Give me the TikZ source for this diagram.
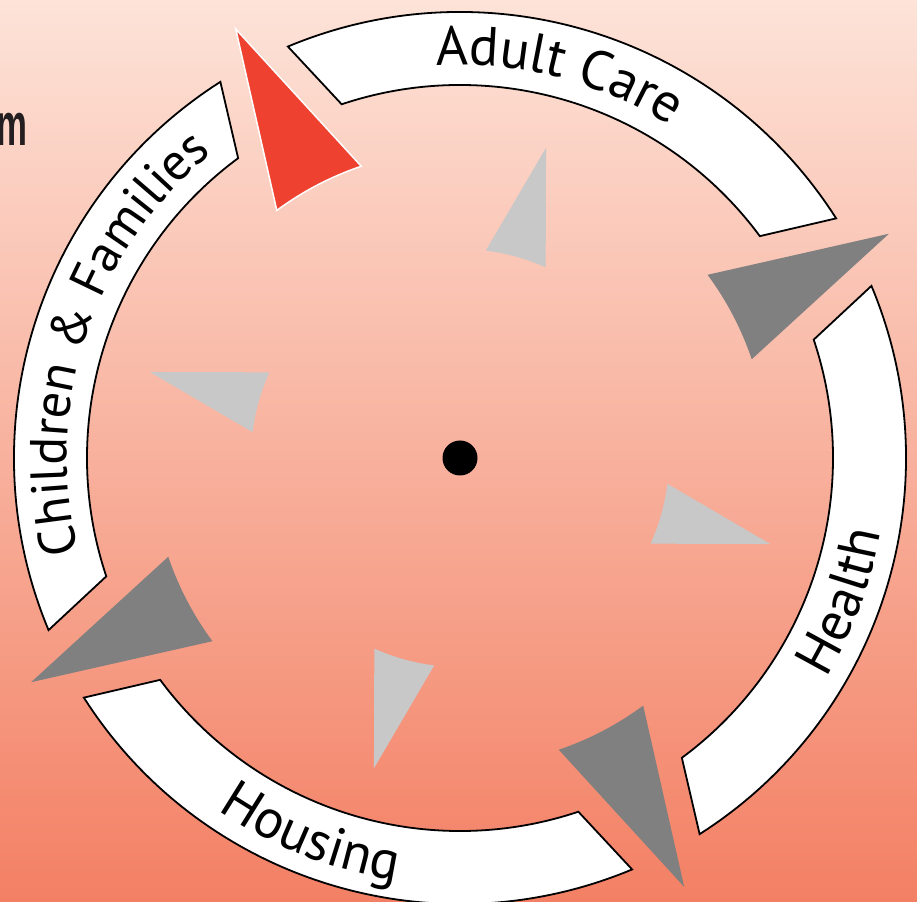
\documentclass[tikz,border=0pt]{standalone}
\usepackage{fontspec}
\setmainfont{PT Sans}
\newfontfamily\mfont{Liberation Sans}
\usetikzlibrary{decorations.text}
\definecolor{bgtop}{RGB}{253,227,216}
\definecolor{bgmid}{RGB}{248,180,157}
\definecolor{bgbot}{RGB}{243,128,100}
\definecolor{darkarrow}{RGB}{128,128,128}
\definecolor{lightarrow}{RGB}{200,200,200}
\definecolor{redarrow}{RGB}{239,65,48}
\definecolor{mtext}{RGB}{35,31,32}
\tikzset{
  segment/.style={fill=white, draw=black, line width=1.8pt, line join=miter},
  bigarrow/.style={fill=darkarrow},
  redhead/.style={fill=redarrow, draw=white, line width=1.5pt, line join=miter},
  smallarrow/.style={fill=lightarrow},
  ringlabel/.style 2 args={decorate, decoration={text along path, text align=center,
      text={|\fontsize{#1}{60}\selectfont|#2}}},
}
\begin{document}
\begin{tikzpicture}[x=1pt,y=1pt]
\useasboundingbox (-460,-443) rectangle (457,458);
\shade[top color=bgtop, middle color=bgmid, bottom color=bgbot] (-460,-443) rectangle (457,458);

% ring segments
\foreach \r in {0,-90,-180,90}{
  \draw[segment, rotate=\r] (112.7:446pt) arc[start angle=112.7, end angle=32.5, radius=446pt]
     -- (36.5:373pt) arc[start angle=36.5, end angle=108.5, radius=373pt] -- cycle;
}

% outer arrowheads
\foreach \r in {0,-90,-180}{
  \fill[bigarrow, rotate=\r] (36.5:308pt) arc[start angle=36.5, end angle=18.7, radius=308pt]
     -- (27.6:484pt) -- cycle;
}
\filldraw[redhead, rotate=90] (36.5:308pt) arc[start angle=36.5, end angle=18.7, radius=308pt]
     -- (27.6:484pt) -- cycle;

% inner arrowheads
\foreach \r in {0,-90,-180,90}{
  \fill[smallarrow, rotate=\r] (82.9:209pt) arc[start angle=82.9, end angle=65.8, radius=209pt]
     -- (74.5:322pt) -- cycle;
}

% centre dot
\node[circle, fill=black, minimum size=35pt, inner sep=0pt] (hub) at (0,0) {};

% labels along the ring
\path[ringlabel={55}{Adult Care}] (125.5:393pt) arc[start angle=125.5, end angle=25.5, radius=393pt];
\path[ringlabel={55}{Health}] (-70.5:427pt) arc[start angle=-70.5, end angle=29.5, radius=427pt];
\path[ringlabel={55}{Housing}] (-161.5:427pt) arc[start angle=-161.5, end angle=-61.5, radius=427pt];
\path[ringlabel={52}{Children {\&} Families}] (211.5:393pt) arc[start angle=211.5, end angle=111.5, radius=393pt];

% cut-off title letter
\node[anchor=base east, inner sep=0pt, text=mtext, font=\mfont\bfseries\fontsize{60}{60}\selectfont] (cut) at (-432,312) {\scalebox{0.58}[1]{m}};
\end{tikzpicture}
\end{document}
